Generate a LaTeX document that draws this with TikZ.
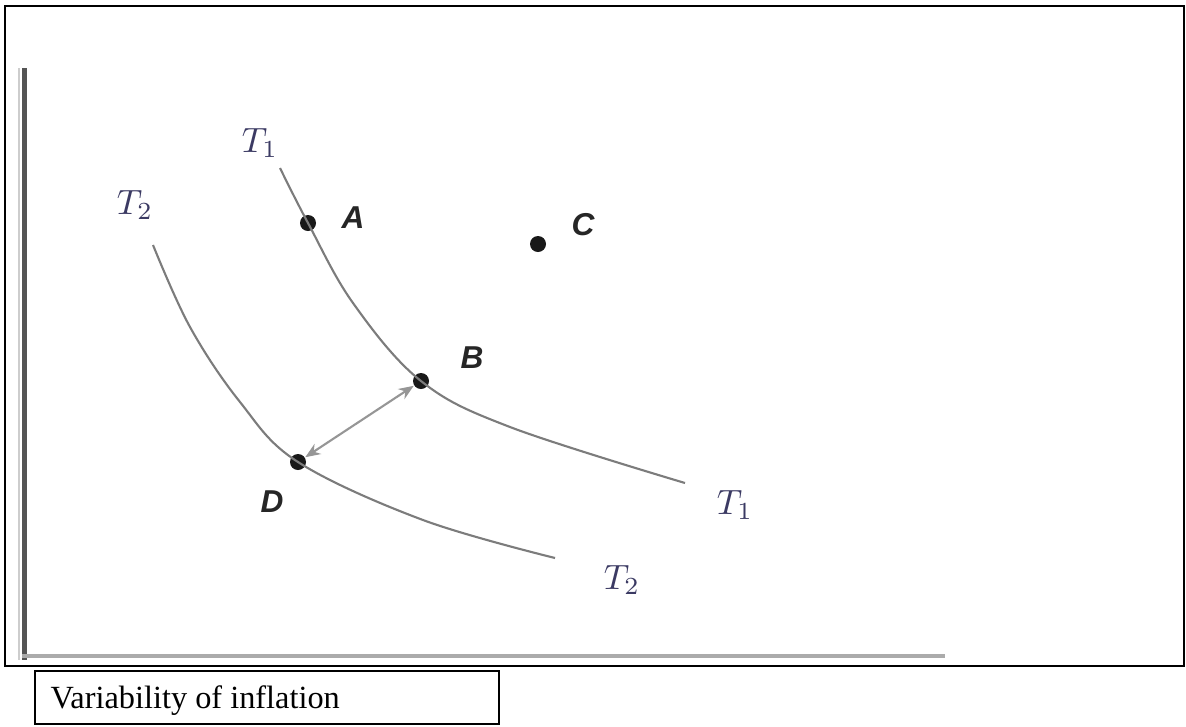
\documentclass[tikz,border=0pt]{standalone}
\usepackage{fontspec}
\setmainfont{Liberation Serif}
\setsansfont{Liberation Sans}
\usetikzlibrary{arrows.meta}
\begin{document}
\begin{tikzpicture}[x=1cm,y=1cm]
\definecolor{cax}{HTML}{555555}\definecolor{caxl}{HTML}{ABABAB}
\definecolor{ccurve}{HTML}{7C7C7C}\definecolor{ctlab}{HTML}{3B3A63}
\tikzset{dotnode/.style={circle,fill=black!90,inner sep=0pt,minimum size=0.16cm},
 curve/.style={ccurve,line width=0.6pt},
 lbl/.style={font=\sffamily\bfseries\itshape\fontsize{9}{10}\selectfont,text=black!85,inner sep=0pt},
 tlbl/.style={font=\fontsize{10}{12}\selectfont,text=ctlab,inner sep=0pt}}
\useasboundingbox (0,0) rectangle (11.86,7.26);
% frame and axes
\draw[line width=0.7pt] (0.05,7.20) rectangle (11.84,0.60);
\draw[caxl!60,line width=0.6pt] (0.19,6.58) -- (0.19,0.66);
\draw[cax,line width=1.3pt] (0.245,6.58) -- (0.245,0.66);
\draw[caxl,line width=1.2pt] (0.22,0.70) -- (9.45,0.70);
% points
\node[dotnode] (A) at (3.08,5.03) {};
\node[dotnode] (B) at (4.21,3.45) {};
\node[dotnode] (C) at (5.38,4.82) {};
\node[dotnode] (D) at (2.98,2.64) {};
\node[lbl] (lA) at (3.53,5.08) {A};
\node[lbl] (lB) at (4.72,3.68) {B};
\node[lbl] (lC) at (5.83,5.01) {C};
\node[lbl] (lD) at (2.72,2.24) {D};
% curves
\draw[curve] plot[smooth,tension=0.6] coordinates {(2.80,5.58) (A.center) (3.53,4.23)
 (B.center) (5.10,2.99) (6.85,2.43)};
\draw[curve] plot[smooth,tension=0.6] coordinates {(1.53,4.81) (1.90,3.99) (2.40,3.24)
 (D.center) (4.23,2.06) (5.55,1.68)};
\node[tlbl] (t1a) at (2.60,5.83) {$T_1$};
\node[tlbl] (t2a) at (1.35,5.21) {$T_2$};
\node[tlbl] (t1b) at (7.35,2.21) {$T_1$};
\node[tlbl] (t2b) at (6.22,1.46) {$T_2$};
\draw[ccurve!80,line width=0.6pt,{Stealth[length=1.5mm,width=1.2mm]}-{Stealth[length=1.5mm,width=1.2mm]}]
 (D) -- (B);
% caption
\draw[line width=0.6pt] (0.35,0.55) rectangle (4.99,0.02);
\node[anchor=west,font=\fontsize{9.2}{11}\selectfont,inner sep=0pt] (cap) at (0.50,0.25) {Variability of inflation};
\end{tikzpicture}
\end{document}
